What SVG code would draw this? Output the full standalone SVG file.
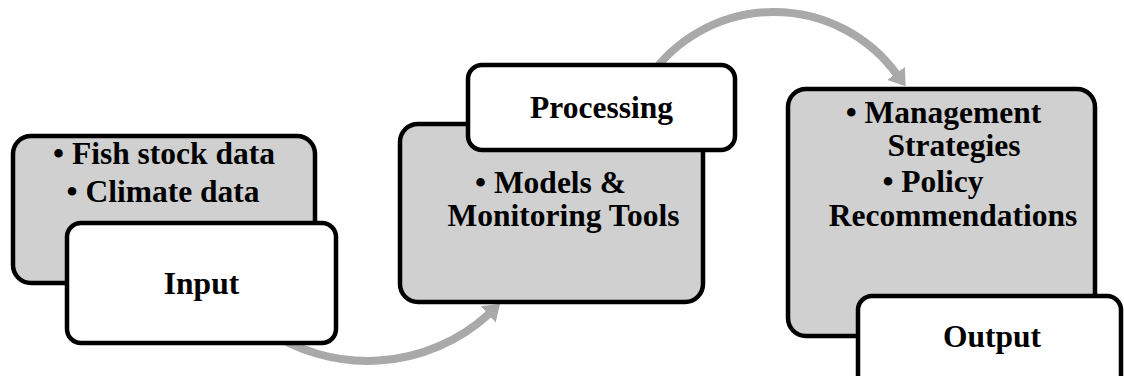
<svg xmlns="http://www.w3.org/2000/svg" width="1124" height="376" viewBox="0 0 1124 376">
  <style>
    .detail { fill: #d0d0d0; stroke: #000; stroke-width: 4.5; }
    .title { fill: #fff; stroke: #000; stroke-width: 4.5; }
    .label { font-family: "Liberation Serif", "Times New Roman", serif; font-weight: bold; font-size: 31.5px; fill: #000; }
    .flow { fill: none; stroke: #a9a9a9; stroke-width: 8; marker-end: url(#head); }
  </style>
  <defs>
    <marker id="head" markerUnits="userSpaceOnUse" viewBox="0 0 16 22" refX="0.5" refY="11" markerWidth="16" markerHeight="22" orient="auto">
      <path d="M0,0 L16,11 L0,22 z" fill="#a9a9a9"/>
    </marker>
  </defs>

  <!-- curved arrows between stages, drawn beneath the boxes -->
  <g id="connectors">
    <path class="flow" d="M264.3,328.4 A180,180 0 0 0 488.6,314.2"/>
    <path class="flow" d="M649.5,76.8 A152,152 0 0 1 896.4,73.8"/>
  </g>

  <!-- stage 1 -->
  <g id="input">
    <rect class="detail" x="13" y="136" width="302" height="147" rx="18"/>
    <text class="label" text-anchor="middle" x="164" y="164">• Fish stock data</text>
    <text class="label" text-anchor="middle" x="163" y="202">• Climate data</text>
    <rect class="title" x="67" y="223" width="269" height="120" rx="14"/>
    <text class="label" text-anchor="middle" x="201.5" y="294">Input</text>
  </g>

  <!-- stage 2 -->
  <g id="processing">
    <rect class="detail" x="400" y="124" width="303" height="178" rx="18"/>
    <text class="label" text-anchor="middle" x="550.5" y="193">• Models &amp;</text>
    <text class="label" text-anchor="middle" x="563.5" y="226">Monitoring Tools</text>
    <rect class="title" x="468" y="65" width="267" height="85" rx="14"/>
    <text class="label" text-anchor="middle" x="601.5" y="118">Processing</text>
  </g>

  <!-- stage 3 -->
  <g id="output">
    <rect class="detail" x="788" y="89" width="307" height="247" rx="18"/>
    <text class="label" text-anchor="middle" x="943.5" y="123">• Management</text>
    <text class="label" text-anchor="middle" x="954" y="156">Strategies</text>
    <text class="label" text-anchor="middle" x="933" y="192">• Policy</text>
    <text class="label" text-anchor="middle" x="953" y="226">Recommendations</text>
    <rect class="title" x="858" y="296" width="263" height="110" rx="14"/>
    <text class="label" text-anchor="middle" x="992" y="347">Output</text>
  </g>
</svg>
